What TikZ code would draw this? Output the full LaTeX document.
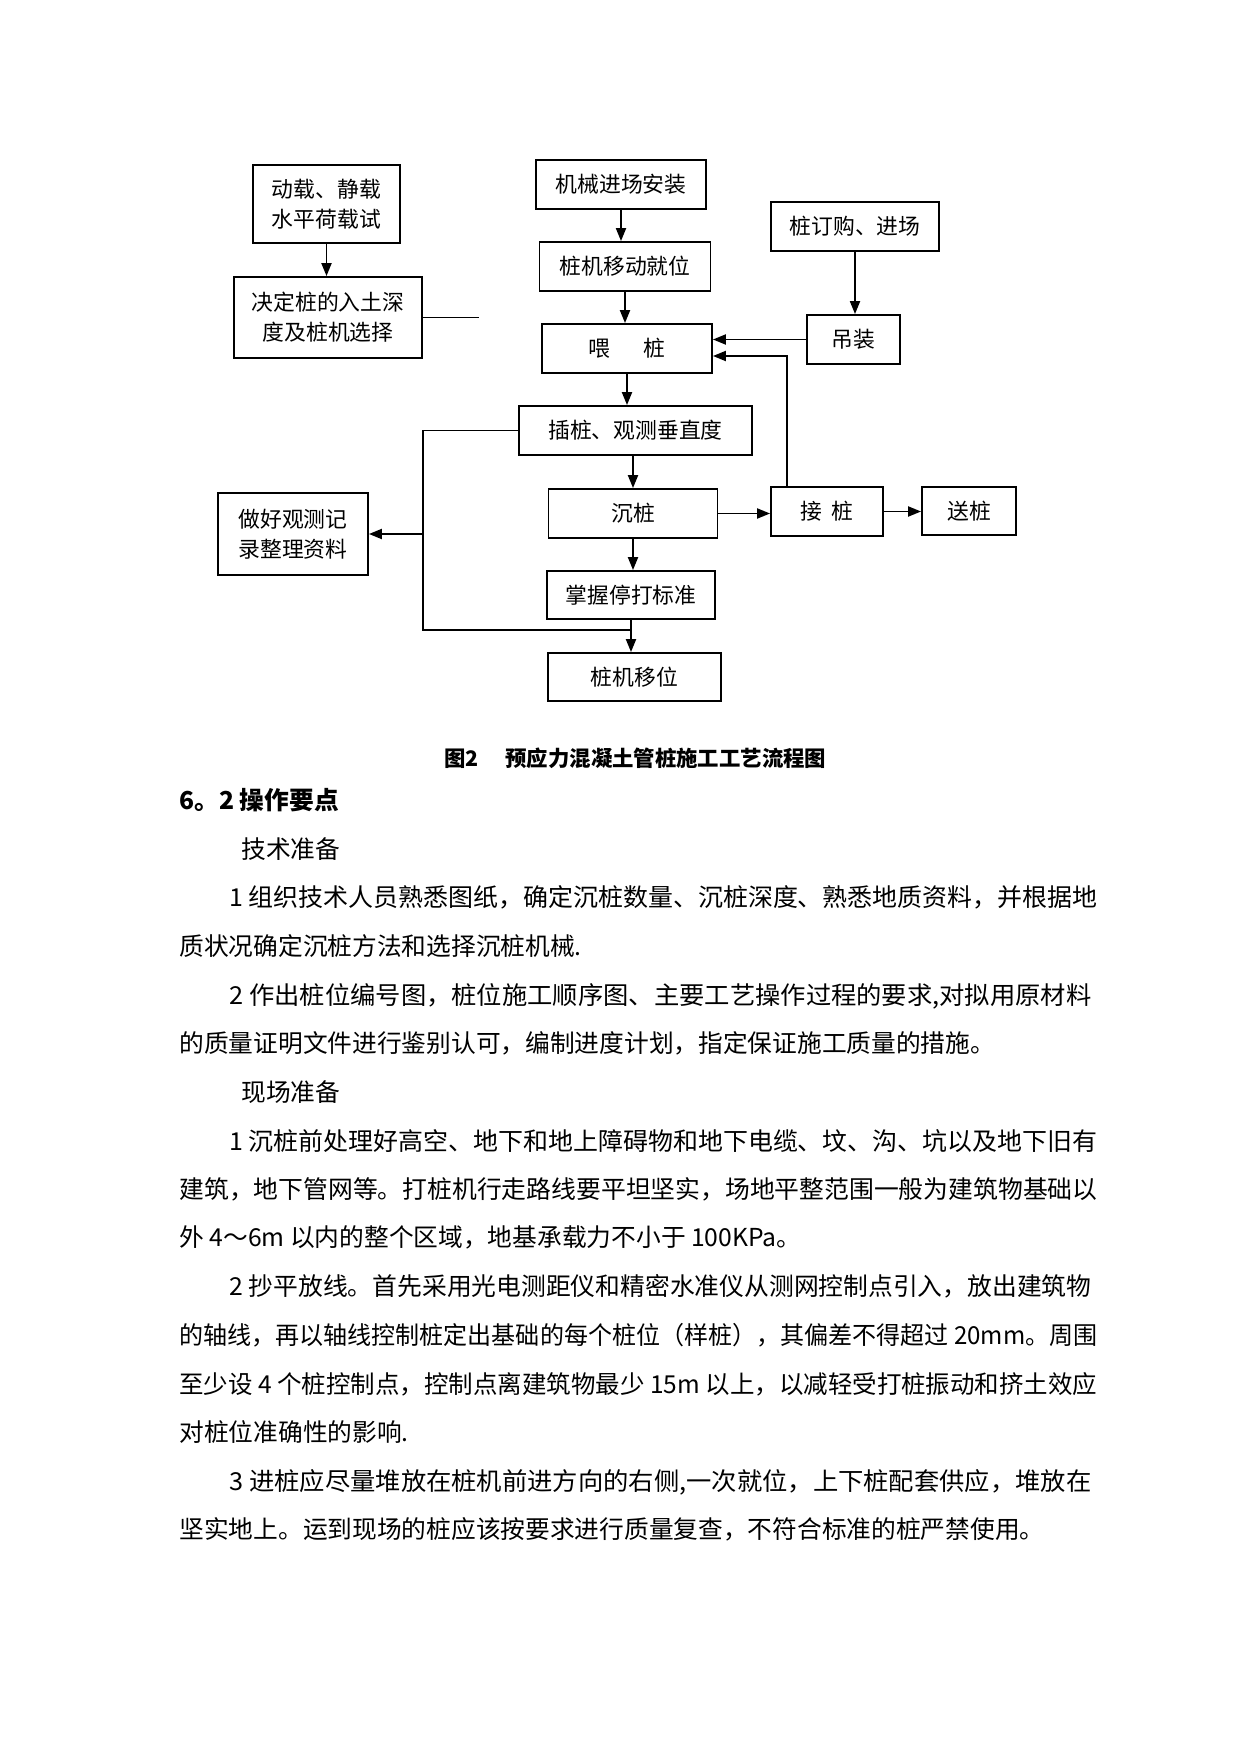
\documentclass[tikz,border=0pt]{standalone}
\usepackage{fontspec}
\setmainfont{Noto Sans CJK SC}
\usetikzlibrary{arrows.meta,calc}

\newdimen\unpx \unpx=0.1692mm
\def\px{0.1692mm}
% ligne pleine, mise a la largeur de la colonne
\newcommand{\pleine}[2]{\resizebox{#1\unpx}{\height}{#2}}

\begin{document}
\begin{tikzpicture}[x=0.1692mm,y=-0.1692mm]

%styles
\tikzset{
    boite/.style={draw,line width=0.9pt,inner sep=0pt,align=center,
        font=\fontsize{10.5}{14.5}\selectfont},
    taille/.style 2 args={minimum width=#1*\px,minimum height=#2*\px},
    fleche/.style={line width=0.9pt,-{Triangle[length=2.2mm,width=1.7mm]}},
    trait/.style={line width=0.7pt},
    ligne/.style={anchor=base west,inner sep=0pt,font=\fontsize{11.9}{11.9}\selectfont},
}

\fill[white] (0,0) rectangle (1241,1754);
\useasboundingbox (0,0) rectangle (1241,1754);

%cadres
\node[boite,taille={147}{78}] (dz) at (326.5,204) {动载、静载\\水平荷载试};
\node[boite,taille={188}{81}] (jd) at (328,317.5) {决定桩的入土深\\度及桩机选择};
\node[boite,taille={170}{49}] (jx) at (621,184.5) {机械进场安装};
\node[boite,taille={171}{49}] (zy) at (625,266.5) {桩机移动就位};
\node[boite,taille={170}{49}] (wz) at (627,348.5) {喂\hspace{5.6mm}桩};
\node[boite,taille={233}{49}] (cz) at (635.5,430.5) {插桩、观测垂直度};
\node[boite,taille={169}{49}] (chen) at (633,513.5) {沉桩};
\node[boite,taille={168}{48}] (zw) at (631,595) {掌握停打标准};
\node[boite,taille={173}{48}] (yw) at (634.5,677) {桩机移位};
\node[boite,taille={168}{49}] (dg) at (855,226.5) {桩订购、进场};
\node[boite,taille={93}{49}] (dzh) at (853.5,339.5) {吊装};
\node[boite,taille={112}{49}] (jz) at (827,511.5) {接\hspace{1.6mm}桩};
\node[boite,taille={94}{48}] (sz) at (969,511) {送桩};
\node[boite,taille={150}{82}] (jl) at (293,534) {做好观测记\\录整理资料};

%liaisons
\coordinate (jdfin) at ($(jd.east)+(56,0)$);
\coordinate (coin) at ($(cz.west)+(-95,0)$);
\coordinate (bas) at ($(zw.south)+(0,10)$);

\draw[fleche] (dz.south) -- (dz.south |- jd.north);
\draw[trait] (jd.east) -- (jdfin);
\draw[fleche] (jx.south) -- (jx.south |- zy.north);
\draw[fleche] (zy.south) -- (zy.south |- wz.north);
\draw[fleche] (wz.south) -- (wz.south |- cz.north);
\draw[fleche] (cz.south -| chen.south) -- (chen.north);
\draw[fleche] (chen.south) -- (chen.south |- zw.north);
\draw[fleche] (zw.south) -- (zw.south |- yw.north);
\draw[fleche] (dg.south) -- (dg.south |- dzh.north);
\draw[fleche] (dzh.west) -- (dzh.west -| wz.east);
\draw[fleche] ($(jz.north west)+(17,0)$) |- ($(wz.east)+(0,7.5)$);
\draw[fleche] (chen.east) -- (chen.east -| jz.west);
\draw[fleche] (jz.east) -- (jz.east -| sz.west);
\draw[trait] (cz.west) -- (coin) -- (coin |- bas) -- (bas);
\draw[fleche] (coin |- jl.east) -- (jl.east);

%texte
\node[anchor=base west,inner sep=0pt,font=\fontsize{10.3}{10.3}\selectfont\bfseries] (titre)
    at (444,766) {图2\hspace{4.5mm}预应力混凝土管桩施工工艺流程图};
\node[ligne,font=\fontsize{11.9}{11.9}\selectfont\bfseries] (sect) at (179,809.5) {6。2 操作要点};
\node[ligne] (tech) at (241,858.5) {技术准备};
\node[ligne] (l1) at (229,906.5) {\pleine{868}{1 组织技术人员熟悉图纸，确定沉桩数量、沉桩深度、熟悉地质资料，并根据地}};
\node[ligne] (l2) at (179,955.5) {质状况确定沉桩方法和选择沉桩机械.};
\node[ligne] (l3) at (229,1004) {\pleine{862}{2 作出桩位编号图，桩位施工顺序图、主要工艺操作过程的要求,对拟用原材料}};
\node[ligne] (l4) at (179,1052) {的质量证明文件进行鉴别认可，编制进度计划，指定保证施工质量的措施。};
\node[ligne] (site) at (241,1101.5) {现场准备};
\node[ligne] (l5) at (229,1150.5) {\pleine{868}{1 沉桩前处理好高空、地下和地上障碍物和地下电缆、坟、沟、坑以及地下旧有}};
\node[ligne] (l6) at (179,1198.5) {\pleine{918}{建筑，地下管网等。打桩机行走路线要平坦坚实，场地平整范围一般为建筑物基础以}};
\node[ligne] (l7) at (179,1246.5) {外 4～6m 以内的整个区域，地基承载力不小于 100KPa。};
\node[ligne] (l8) at (229,1295.5) {\pleine{862}{2 抄平放线。首先采用光电测距仪和精密水准仪从测网控制点引入，放出建筑物}};
\node[ligne] (l9) at (179,1344) {\pleine{918}{的轴线，再以轴线控制桩定出基础的每个桩位（样桩），其偏差不得超过 20mm。周围}};
\node[ligne] (l10) at (179,1393.5) {\pleine{918}{至少设 4 个桩控制点，控制点离建筑物最少 15m 以上，以减轻受打桩振动和挤土效应}};
\node[ligne] (l11) at (179,1441.5) {对桩位准确性的影响.};
\node[ligne] (l12) at (229,1490.5) {\pleine{862}{3 进桩应尽量堆放在桩机前进方向的右侧,一次就位，上下桩配套供应，堆放在}};
\node[ligne] (l13) at (179,1538.5) {坚实地上。运到现场的桩应该按要求进行质量复查，不符合标准的桩严禁使用。};

\end{tikzpicture}
\end{document}
